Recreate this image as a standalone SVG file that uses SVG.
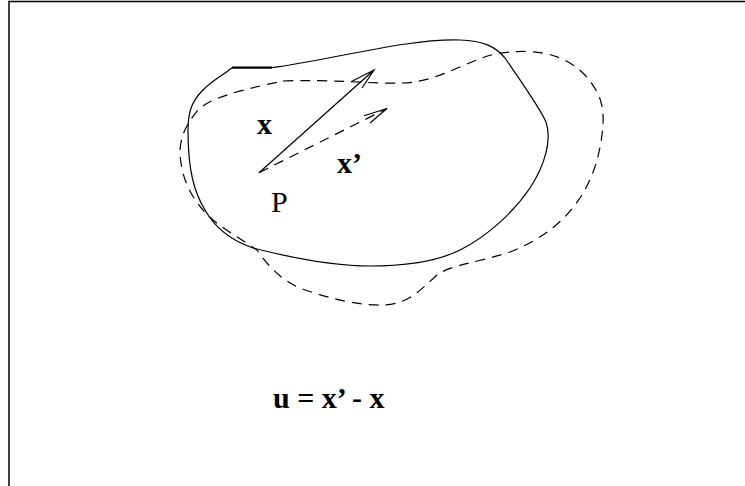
<svg xmlns="http://www.w3.org/2000/svg" width="745" height="486" viewBox="0 0 745 486">
<style>
.s{fill:none;stroke:#000;stroke-width:1.2}
.d{fill:none;stroke:#000;stroke-width:1.2;stroke-dasharray:10 7}
.t{font-family:"Liberation Serif","Times New Roman",serif;font-size:30px;fill:#000}
.b{font-weight:bold}
</style>
<rect width="745" height="486" fill="#fff"/>
<g id="frame">
<path d="M9,486 V1.5 H745" fill="none" stroke="#000" stroke-width="1.5"/>
</g>
<g id="body-solid">
<path class="s" d="M272,67.7 C330,60 410,38 460,40 C483,41 495,46 505,58 C520,80 540,108 546,122 C552,140 545,165 530,188 C515,210 490,235 460,250 C440,260 410,266 370,266 C340,266 300,260 253,248 C230,240 215,228 205,210 C194,192 188,170 188,130 C188,110 193,100 203,90 C213,80 222,76 232,67.7"/>
<path d="M232,67.7 H272" fill="none" stroke="#000" stroke-width="2.2"/>
</g>
<g id="body-dashed">
<path class="d" d="M283,81 C330,79 370,84 403,83 C440,82 470,58 500,53 C540,48 565,55 585,75 C600,92 604,105 603,125 C601,150 595,175 580,198 C565,220 545,238 510,252 C480,262 450,265 437,275 C420,290 410,303 385,305 C360,306 330,299 300,288 C280,280 265,262 257,250 C240,238 215,225 203,210 C190,195 180,175 180,150 C181,132 190,120 198,110 C210,98 240,90 283,81"/>
</g>
<g id="connectors">
<path class="s" d="M259,172.7 L374,70 M351,81.7 L374,70 L362,88"/>
<path class="d" d="M259,172.7 L387,108.5"/>
<path class="s" d="M364,115.7 L387,108.5 L370,123"/>
</g>
<g id="labels">
<text class="t b" x="257" y="134">x</text>
<text class="t b" x="337" y="173">x’</text>
<text class="t" x="271" y="212">P</text>
<text class="t b" x="273" y="408">u = x’ - x</text>
</g>
</svg>
